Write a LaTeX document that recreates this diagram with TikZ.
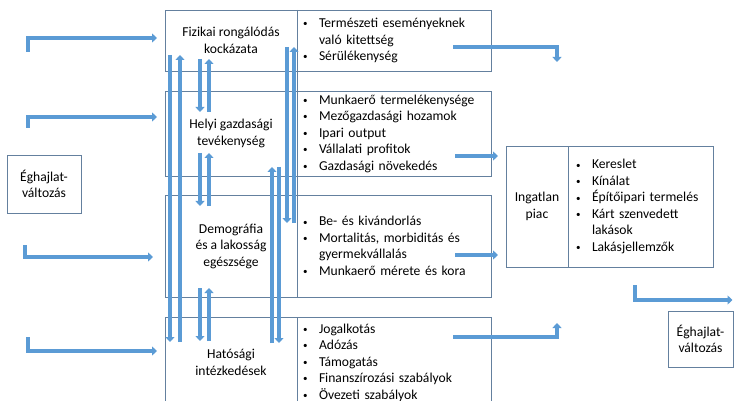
\documentclass[tikz,border=0pt]{standalone}
\usepackage{fontspec}
\setmainfont{Carlito}
\usetikzlibrary{arrows.meta}

\definecolor{keret}{RGB}{100,128,158}
\definecolor{nyilkek}{RGB}{91,155,213}

\newcommand{\pont}{\makebox[16pt][l]{\raisebox{0.1ex}{\small\textbullet}}}
\newcommand{\beh}{\hspace*{16pt}}

\tikzset{
    doboz/.style={draw=keret, line width=0.7pt, rectangle, anchor=north west,
        inner sep=0pt, outer sep=0pt, align=center},
    lista/.style={doboz, align=left, inner xsep=6pt, text width=182pt},
    nyil/.style={draw=nyilkek, line width=4.5pt, line join=miter,
        -{Triangle[width=9pt,length=5pt]}}
}

\begin{document}
\begin{tikzpicture}[x=1pt,y=-1pt,font=\fontsize{13.6}{16.5}\selectfont]

    \clip (0,0) rectangle (734,401);
    \useasboundingbox (0,0) rectangle (734,401);

    % Bal oldali blokkok
    \node[doboz, minimum width=132pt, minimum height=61pt] (fiz) at (165,10) {Fizikai rongálódás\\kockázata};
    \node[doboz, minimum width=132pt, minimum height=85pt] (helyi) at (165,91) {Helyi gazdasági\\tevékenység};
    \node[doboz, minimum width=132pt, minimum height=102pt] (demo) at (165,195) {Demográfia\\és a lakosság\\egészsége};
    \node[doboz, minimum width=132pt, minimum height=91pt] (hat) at (165,317) {Hatósági\\intézkedések};

    % Listak
    \node[lista, minimum height=61pt] (fizL) at (297,10)
        {\pont Természeti eseményeknek\\\beh való kitettség\\\pont Sérülékenység};
    \node[lista, minimum height=85pt] (helyiL) at (297,91)
        {\pont Munkaerő termelékenysége\\\pont Mezőgazdasági hozamok\\\pont Ipari output\\\pont Vállalati profitok\\\pont Gazdasági növekedés};
    \node[lista, minimum height=102pt] (demoL) at (297,195)
        {\pont Be- és kivándorlás\\\pont Mortalitás, morbiditás és\\\beh gyermekvállalás\\\pont Munkaerő mérete és kora};
    \node[lista, minimum height=91pt] (hatL) at (297,317)
        {\pont Jogalkotás\\\pont Adózás\\\pont Támogatás\\\pont Finanszírozási szabályok\\\pont Övezeti szabályok};
    \draw[keret, line width=0.7pt] (fiz.north east) -- (demo.south east);

    % Ingatlan piac
    \node[doboz, minimum width=62pt, minimum height=121pt] (ing) at (506,146) {Ingatlan\\piac};
    \node[doboz, align=left, inner xsep=8pt, text width=129pt, minimum height=121pt] (ingL) at (568,146)
        {\pont Kereslet\\\pont Kínálat\\\pont Építőipari termelés\\\pont Kárt szenvedett\\\beh lakások\\\pont Lakásjellemzők};

    % Eghajlatvaltozas
    \node[doboz, minimum width=74pt, minimum height=58pt] (eghB) at (7,155) {Éghajlat-\\változás};
    \node[doboz, minimum width=65pt, minimum height=56pt] (eghJ) at (668,311) {Éghajlat-\\változás};

    % Bemeno nyilak
    \coordinate (be1) at (28,52);
    \coordinate (be2) at (28,128);
    \coordinate (be3) at (25,245);
    \coordinate (be4) at (28,337);
    \draw[nyil] (be1) |- ([xshift=-8pt,yshift=2.5pt]fiz.west);
    \draw[nyil] (be2) |- ([xshift=-8pt,yshift=16.5pt]helyi.west);
    \draw[nyil] (be3) |- ([xshift=-12pt,yshift=-11pt]demo.west);
    \draw[nyil] (be4) |- ([xshift=-8pt,yshift=11.5pt]hat.west);

    % Fuggoleges nyilak
    \coordinate (a1) at (170,55);  \coordinate (a2) at (170,342);
    \coordinate (b1) at (180,342); \coordinate (b2) at (180,55);
    \coordinate (c1) at (200,59);  \coordinate (c2) at (200,112);
    \coordinate (d1) at (209,112); \coordinate (d2) at (209,59);
    \coordinate (e1) at (200,153); \coordinate (e2) at (200,206);
    \coordinate (f1) at (209,206); \coordinate (f2) at (209,153);
    \coordinate (g1) at (200,288); \coordinate (g2) at (200,341);
    \coordinate (h1) at (209,341); \coordinate (h2) at (209,288);
    \coordinate (i1) at (287,47);  \coordinate (i2) at (287,223);
    \coordinate (j1) at (294,223); \coordinate (j2) at (294,47);
    \coordinate (k1) at (272,343); \coordinate (k2) at (272,167);
    \coordinate (l1) at (279,167); \coordinate (l2) at (279,343);
    \foreach \p in {a,b,c,d,e,f,g,h,i,j,k,l}
        \draw[nyil] (\p1) -- (\p2);

    % Kimeno nyilak
    \draw[nyil] ([xshift=-38pt,yshift=-6.5pt]fizL.east) -| ([xshift=-11pt,yshift=84pt]ing.north east);
    \draw[nyil] ([xshift=-36pt,yshift=-22.5pt]helyiL.east) -- ([xshift=-8pt,yshift=-22.5pt]helyiL.east -| ing.west);
    \draw[nyil] ([xshift=-36pt,yshift=-9pt]demoL.east) -- ([xshift=-8pt,yshift=-9pt]demoL.east -| ing.west);
    \draw[nyil] ([xshift=-38pt,yshift=25.5pt]hatL.east) -| ([xshift=20pt,yshift=-56pt]ing.south);
    \coordinate (ki) at (635,285);
    \draw[nyil] (ki) |- ([xshift=32pt,yshift=11pt]eghJ.north);

\end{tikzpicture}
\end{document}
